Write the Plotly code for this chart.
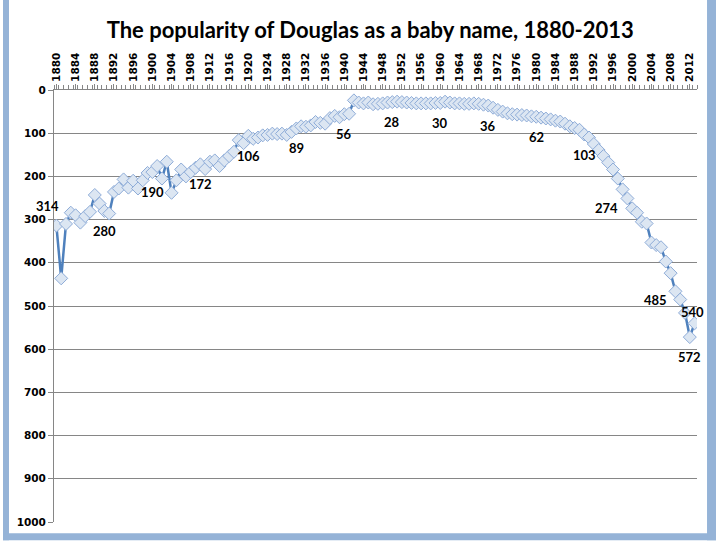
import plotly.graph_objects as go

# Rank of "Douglas" per year (lower = more popular)
years = list(range(1880, 2014))
ranks = [
    314, 436, 310, 284, 290, 307, 292, 282, 243, 263,   # 1880-1889
    280, 286, 236, 228, 207, 226, 210, 228, 209, 192,   # 1890-1899
    190, 176, 205, 166, 238, 209, 184, 200, 190, 180,   # 1900-1909
    172, 183, 166, 163, 176, 163, 153, 143, 116, 123,   # 1910-1919
    106, 113, 110, 105, 104, 101, 102, 101, 104, 97,    # 1920-1929
    89, 84, 85, 82, 74, 76, 78, 65, 60, 63,             # 1930-1939
    56, 55, 24, 29, 31, 29, 33, 32, 31, 29,             # 1940-1949
    28, 27, 28, 29, 30, 31, 31, 31, 31, 30,             # 1950-1959
    30, 27, 29, 31, 31, 32, 32, 31, 32, 34,             # 1960-1969
    36, 41, 46, 50, 54, 56, 57, 58, 59, 61,             # 1970-1979
    62, 64, 66, 68, 71, 73, 78, 84, 88, 92,             # 1980-1989
    103, 110, 125, 139, 153, 168, 184, 205, 230, 251,   # 1990-1999
    274, 284, 305, 309, 353, 359, 364, 397, 424, 466,   # 2000-2009
    485, 516, 572, 540,                                 # 2010-2013
]

# Years that carry a data label
label_years = [1880, 1890, 1900, 1910, 1920, 1930, 1940, 1950, 1960, 1970,
               1980, 1990, 2000, 2010, 2012, 2013]

# label offsets in pixels (dx, dy with dy positive = up)
label_shift = {1880: (-9, 20), 2000: (-26, 0), 2010: (-25, 0), 2013: (-2, 11)}

font_family = "Lato, 'Open Sans', Arial, sans-serif"
tick_family = "'DejaVu Sans', Verdana, sans-serif"
grid_col = "#868686"
frame_col = "#95B3D7"

fig = go.Figure()

fig.add_trace(go.Scatter(
    x=years,
    y=ranks,
    mode="lines+markers",
    line=dict(color="#4F81BD", width=2.5),
    marker=dict(symbol="diamond", size=10, color="#DCE6F2",
                line=dict(color="#8EACD8", width=1)),
    showlegend=False,
    hoverinfo="x+y",
))

for yr in label_years:
    val = ranks[years.index(yr)]
    dx, dy = label_shift.get(yr, (0, -20))
    fig.add_annotation(
        x=yr, y=val, text=f"<b>{val}</b>", showarrow=False,
        xshift=dx, yshift=dy,
        font=dict(family=font_family, size=13, color="black"),
    )

# light-blue frame around the chart area
frame = [
    dict(x0=-0.0793, x1=-0.07, y0=-0.042, y1=1.25),   # left
    dict(x0=-0.0793, x1=1.03, y0=-0.042, y1=-0.026),  # bottom
    dict(x0=1.0156, x1=1.03, y0=-0.042, y1=1.25),     # right
]
for f in frame:
    fig.add_shape(type="rect", xref="paper", yref="paper",
                  line=dict(width=0), fillcolor=frame_col, layer="above", **f)

fig.update_layout(
    width=716,
    height=544,
    margin=dict(l=54, r=19, t=90, b=22, autoexpand=False),
    title=dict(
        text="<b>The popularity of Douglas as a baby name, 1880-2013</b>",
        x=0.517, xanchor="center", y=0.945, yanchor="middle",
        font=dict(family=font_family, size=22, color="black"),
    ),
    xaxis=dict(
        side="top",
        range=[1879.5, 2013.5],
        tickvals=list(range(1880, 2014, 4)),
        tickangle=-90,
        tickfont=dict(family=tick_family, size=10.5, color="black", weight="bold"),
        ticks="outside",
        ticklen=5,
        tickcolor=grid_col,
        minor=dict(dtick=1, tick0=1879.5, ticks="outside", ticklen=4, tickcolor=grid_col),
        showgrid=False,
        zeroline=False,
        showline=True,
        linecolor=grid_col,
        linewidth=1,
    ),
    yaxis=dict(
        range=[1000, 0],
        dtick=100,
        tickfont=dict(family=tick_family, size=10.5, color="black", weight="bold"),
        ticks="outside",
        ticklen=5,
        tickcolor=grid_col,
        showgrid=True,
        gridcolor=grid_col,
        gridwidth=1,
        zeroline=False,
        showline=True,
        linecolor=grid_col,
        linewidth=1,
    ),
    plot_bgcolor="white",
    paper_bgcolor="white",
)

fig.write_html("out.html", config={"displayModeBar": False},
               post_script="document.body.style.margin='0';")
